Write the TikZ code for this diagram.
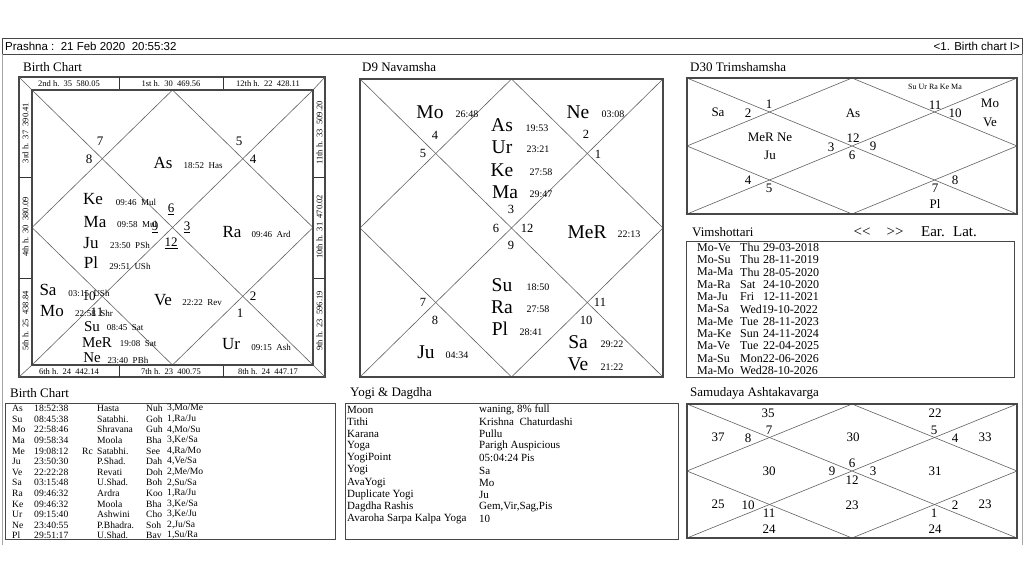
\documentclass[tikz,border=0pt]{standalone}
\usepackage{fontspec}
\setmainfont{Liberation Serif}
\newfontfamily\sansf{Liberation Sans}
\newcommand\kundli[4]{%
  \draw[cl] (#1,#2) -- (#3,#4) (#1,#4) -- (#3,#2);
  \draw[cl] ({(#1+#3)/2},#2) -- (#3,{(#2+#4)/2}) -- ({(#1+#3)/2},#4) -- (#1,{(#2+#4)/2}) -- cycle;
  \draw[frame] (#1,#2) rectangle (#3,#4);}
\newcommand\brow[7]{%
  \node[tb] at (12,#1) {#2};
  \node[tb] at (34,#1) {#3};
  \node[tb] at (82,#1) {#4};
  \node[tb] at (97,#1) {#5};
  \node[tb] at (146,#1) {#6};
  \node[tb] at (167,#1) {#7};}
\newcommand\yrow[3]{%
  \node[ty] at (347,#1) {#2};
  \node[ty] at (479,#1) {#3};}
\newcommand\vrow[4]{%
  \node[tv] at (697,#1) {#2};
  \node[tv] at (740,#1) {#3};
  \node[tv] at (763,#1) {#4};}
\begin{document}
\begin{tikzpicture}[x=1pt,y=-1pt,
  frame/.style={draw=black!72, line width=1.4pt},
  box/.style={draw=black!72, line width=1pt},
  cl/.style={draw=black!62, line width=0.6pt},
  dv/.style={draw=black!80, line width=0.7pt},
  t/.style={inner sep=0pt, text=black},
  title/.style={t, anchor=west, font=\fontsize{13}{13}\selectfont},
  big/.style={t, font=\fontsize{17}{17}\selectfont},
  sm/.style={t, font=\fontsize{9}{9}\selectfont},
  hn/.style={t, font=\fontsize{13}{13}\selectfont},
  hs/.style={t, font=\fontsize{8.5}{8.5}\selectfont},
  nbig/.style={t, font=\fontsize{19.5}{19.5}\selectfont},
  nsm/.style={t, font=\fontsize{10}{10}\selectfont},
  nhn/.style={t, font=\fontsize{12.5}{12.5}\selectfont},
  tt/.style={t, font=\fontsize{13}{13}\selectfont},
  tiny/.style={t, font=\fontsize{8}{8}\selectfont},
  tb/.style={t, anchor=west, font=\fontsize{9.6}{9.6}\selectfont},
  ty/.style={t, anchor=west, font=\fontsize{11}{11}\selectfont},
  tv/.style={t, anchor=west, font=\fontsize{12}{12}\selectfont},
  top/.style={t, font=\sansf\fontsize{11.5}{11.5}\selectfont}]
\useasboundingbox (0,0) rectangle (1024,576);
\fill[white] (0,0) rectangle (1024,576);

% ---------- top bar ----------
\draw[box] (2,38) rectangle (1022,54);
\node[top, anchor=west] (hdr) at (5,46) {Prashna :\ \ 21 Feb 2020\ \ 20:55:32};
\node[top, anchor=east] (pg) at (1020,46) {<1. Birth chart I>};
\draw[draw=black!35, line width=0.8pt] (2,54) -- (2,545) (1022,54) -- (1022,545);

% ---------- titles ----------
\node[title] (t1) at (23,67) {Birth Chart};
\node[title] (t2) at (362,67) {D9 Navamsha};
\node[title] (t3) at (690,67) {D30 Trimshamsha};
\node[title] (t4) at (692,232) {Vimshottari};
\node[title] (t5) at (10,393) {Birth Chart};
\node[title] (t6) at (350,393) {Yogi \& Dagdha};
\node[title] (t7) at (690,393) {Samudaya Ashtakavarga};

% ---------- Birth chart ----------
\draw[frame] (19,77) rectangle (325,377);
\draw[cl] (19,77)--(32,90) (325,77)--(313,90) (19,377)--(32,365) (325,377)--(313,365);
\draw[dv] (119,77)--(119,90) (223,77)--(223,90) (119,365)--(119,377) (223,365)--(223,377)
          (19,177)--(32,177) (19,278)--(32,278) (313,177)--(325,177) (313,278)--(325,278);
\kundli{32}{90}{313}{365}
\node[hs] at (69,84) {2nd h.\ \ 35\ \ 580.05};
\node[hs] at (171,84) {1st h.\ \ 30\ \ 469.56};
\node[hs] at (268,84) {12th h.\ \ 22\ \ 428.11};
\node[hs] at (69,371.5) {6th h.\ \ 24\ \ 442.14};
\node[hs] at (171,371.5) {7th h.\ \ 23\ \ 400.75};
\node[hs] at (268,371.5) {8th h.\ \ 24\ \ 447.17};
\node[hs, rotate=90] at (25.5,133) {3rd h.\ \ 37\ \ 390.41};
\node[hs, rotate=90] at (25.5,227) {4th h.\ \ 30\ \ 380.09};
\node[hs, rotate=90] at (25.5,321) {5th h.\ \ 25\ \ 438.84};
\node[hs, rotate=90] at (319.5,133) {11th h.\ \ 33\ \ 509.20};
\node[hs, rotate=90] at (319.5,227) {10th h.\ \ 31\ \ 470.02};
\node[hs, rotate=90] at (319.5,321) {9th h.\ \ 23\ \ 596.19};

\node[hn] at (100,141) {7};
\node[hn] at (89,159) {8};
\node[hn] at (239,141) {5};
\node[hn] at (253,159) {4};
\node[big] at (163,163) {As};      \node[sm] at (203,166) {18:52\ \ Has};
\node[big] at (93,199) {Ke};       \node[sm] at (136,202) {09:46\ \ Mul};
\node[big] at (95,222) {Ma};       \node[sm] at (137,224) {09:58\ \ Mul};
\node[big] at (91,243) {Ju};       \node[sm] at (130,245) {23:50\ \ PSh};
\node[big] at (91,263) {Pl};       \node[sm] at (130,266) {29:51\ \ USh};
\node[hn] at (171,209) {\underline{6}};
\node[hn] at (155,227) {\underline{9}};
\node[hn] at (187,227) {\underline{3}};
\node[hn] at (171,243) {\underline{12}};
\node[big] at (232,232) {Ra};      \node[sm] at (271,234) {09:46\ \ Ard};
\node[big] at (48,290) {Sa};       \node[sm] at (89,293) {03:15\ \ USh};
\node[hn] at (89,296) {10};
\node[big] at (52,311) {Mo};       \node[sm] at (94,313) {22:58\ \ Shr};
\node[hn] at (97,312) {11};
\node[big] at (163,300) {Ve};      \node[sm] at (202,303) {22:22\ \ Rev};
\node[hn] at (253,296) {2};
\node[hn] at (240,313) {1};
\node[big, font=\fontsize{15}{15}\selectfont] at (92,327) {Su};  \node[sm] at (125,328) {08:45\ \ Sat};
\node[big, font=\fontsize{15}{15}\selectfont] at (97,343) {MeR}; \node[sm] at (138,344) {19:08\ \ Sat};
\node[big, font=\fontsize{15}{15}\selectfont] at (92,358) {Ne};  \node[sm] at (128,360) {23:40\ \ PBh};
\node[big] at (231,344) {Ur};      \node[sm] at (271,347) {09:15\ \ Ash};

% ---------- D9 Navamsha ----------
\kundli{360}{79}{663}{377}
\node[nbig] at (430,112) {Mo};  \node[nsm] at (467,114) {26:48};
\node[nhn] at (435,135) {4};
\node[nhn] at (423,153) {5};
\node[nbig] at (578,112) {Ne};  \node[nsm] at (613,114) {03:08};
\node[nhn] at (586,134) {2};
\node[nhn] at (598,154) {1};
\node[nbig] at (502,125) {As};  \node[nsm] at (537,128) {19:53};
\node[nbig] at (502,147) {Ur};  \node[nsm] at (538,149) {23:21};
\node[nbig] at (502,170) {Ke};  \node[nsm] at (541,172) {27:58};
\node[nbig] at (505,192) {Ma};  \node[nsm] at (541,194) {29:47};
\node[nhn] at (511,209) {3};
\node[nhn] at (496,228) {6};
\node[nhn] at (527,228) {12};
\node[nhn] at (511,245) {9};
\node[nbig] at (587,232) {MeR}; \node[nsm] at (629,234) {22:13};
\node[nbig] at (502,285) {Su};  \node[nsm] at (538,287) {18:50};
\node[nbig] at (502,307) {Ra};  \node[nsm] at (538,309) {27:58};
\node[nbig] at (500,329) {Pl};  \node[nsm] at (531,332) {28:41};
\node[nhn] at (423,302) {7};
\node[nhn] at (435,320) {8};
\node[nhn] at (600,302) {11};
\node[nhn] at (586,320) {10};
\node[nbig] at (578,342) {Sa};  \node[nsm] at (612,344) {29:22};
\node[nbig] at (578,364) {Ve};  \node[nsm] at (612,367) {21:22};
\node[nbig] at (426,352) {Ju};  \node[nsm] at (457,355) {04:34};

% ---------- D30 Trimshamsha ----------
\kundli{687}{78}{1017}{214}
\node[tt] at (718,112) {Sa};
\node[tt] at (748,113) {2};
\node[tt] at (769,104) {1};
\node[tt] at (853,113) {As};
\node[tiny] at (935,87) {Su Ur Ra Ke Ma};
\node[tt] at (935,105) {11};
\node[tt] at (955,113) {10};
\node[tt] at (990,103) {Mo};
\node[tt] at (990,122) {Ve};
\node[tt] at (770,137) {MeR Ne};
\node[tt] at (770,155) {Ju};
\node[tt] at (853,138) {12};
\node[tt] at (831,147) {3};
\node[tt] at (873,146) {9};
\node[tt] at (852,155) {6};
\node[tt] at (748,180) {4};
\node[tt] at (769,188) {5};
\node[tt] at (955,180) {8};
\node[tt] at (935,188) {7};
\node[tt] at (935,204) {Pl};

% ---------- Vimshottari ----------
\node[t, font=\fontsize{15}{15}\selectfont] at (862,232) {<\kern0pt<};
\node[t, font=\fontsize{15}{15}\selectfont] at (895,232) {>\kern0pt>};
\node[t, font=\fontsize{15}{15}\selectfont] at (933,232) {Ear.};
\node[t, font=\fontsize{15}{15}\selectfont] at (965,232) {Lat.};
\draw[box] (686,241) rectangle (1014,377);
\vrow{247.5}{Mo-Ve}{Thu}{29-03-2018}
\vrow{259.8}{Mo-Su}{Thu}{28-11-2019}
\vrow{272.1}{Ma-Ma}{Thu}{28-05-2020}
\vrow{284.4}{Ma-Ra}{Sat}{24-10-2020}
\vrow{296.7}{Ma-Ju}{Fri}{12-11-2021}
\vrow{309}{Ma-Sa}{Wed19-10-2022}{}
\vrow{321.3}{Ma-Me}{Tue}{28-11-2023}
\vrow{333.6}{Ma-Ke}{Sun}{24-11-2024}
\vrow{345.9}{Ma-Ve}{Tue}{22-04-2025}
\vrow{358.2}{Ma-Su}{Mon22-06-2026}{}
\vrow{370.5}{Ma-Mo}{Wed28-10-2026}{}

% ---------- Birth chart table ----------
\draw[box] (5,403) rectangle (335,539);
\brow{408.5}{As}{18:52:38}{}{Hasta}{Nuh}{3,Mo/Me}
\brow{419.1}{Su}{08:45:38}{}{Satabhi.}{Goh}{1,Ra/Ju}
\brow{429.7}{Mo}{22:58:46}{}{Shravana}{Guh}{4,Mo/Su}
\brow{440.3}{Ma}{09:58:34}{}{Moola}{Bha}{3,Ke/Sa}
\brow{450.9}{Me}{19:08:12}{Rc}{Satabhi.}{See}{4,Ra/Mo}
\brow{461.5}{Ju}{23:50:30}{}{P.Shad.}{Dah}{4,Ve/Sa}
\brow{472.1}{Ve}{22:22:28}{}{Revati}{Doh}{2,Me/Mo}
\brow{482.7}{Sa}{03:15:48}{}{U.Shad.}{Boh}{2,Su/Sa}
\brow{493.3}{Ra}{09:46:32}{}{Ardra}{Koo}{1,Ra/Ju}
\brow{503.9}{Ke}{09:46:32}{}{Moola}{Bha}{3,Ke/Sa}
\brow{514.5}{Ur}{09:15:40}{}{Ashwini}{Cho}{3,Ke/Ju}
\brow{525.1}{Ne}{23:40:55}{}{P.Bhadra.}{Soh}{2,Ju/Sa}
\brow{535.3}{Pl}{29:51:17}{}{U.Shad.}{Bav}{1,Su/Ra}

% ---------- Yogi & Dagdha ----------
\draw[box] (345,403) rectangle (678,539);
\yrow{410}{Moon}{waning, 8\% full}
\yrow{422.1}{Tithi}{Krishna\ \ Chaturdashi}
\yrow{434.2}{Karana}{Pullu}
\yrow{446.3}{Yoga}{Parigh Auspicious}
\yrow{458.4}{YogiPoint}{05:04:24 Pis}
\yrow{470.5}{Yogi}{Sa}
\yrow{482.6}{AvaYogi}{Mo}
\yrow{494.7}{Duplicate Yogi}{Ju}
\yrow{506.8}{Dagdha Rashis}{Gem,Vir,Sag,Pis}
\yrow{518.9}{Avaroha Sarpa Kalpa Yoga}{10}

% ---------- Samudaya Ashtakavarga ----------
\kundli{687}{404}{1017}{538}
\node[tt] at (768,413) {35};
\node[tt] at (935,413) {22};
\node[tt] at (718,437) {37};
\node[tt] at (748,438) {8};
\node[tt] at (769,430) {7};
\node[tt] at (853,437) {30};
\node[tt] at (934,430) {5};
\node[tt] at (955,438) {4};
\node[tt] at (985,437) {33};
\node[tt] at (769,471) {30};
\node[tt] at (832,471) {9};
\node[tt] at (852,463) {6};
\node[tt] at (873,471) {3};
\node[tt] at (852,480) {12};
\node[tt] at (935,471) {31};
\node[tt] at (718,504) {25};
\node[tt] at (748,505) {10};
\node[tt] at (769,513) {11};
\node[tt] at (852,505) {23};
\node[tt] at (934,513) {1};
\node[tt] at (955,505) {2};
\node[tt] at (985,504) {23};
\node[tt] at (769,529) {24};
\node[tt] at (935,529) {24};
\end{tikzpicture}
\end{document}
